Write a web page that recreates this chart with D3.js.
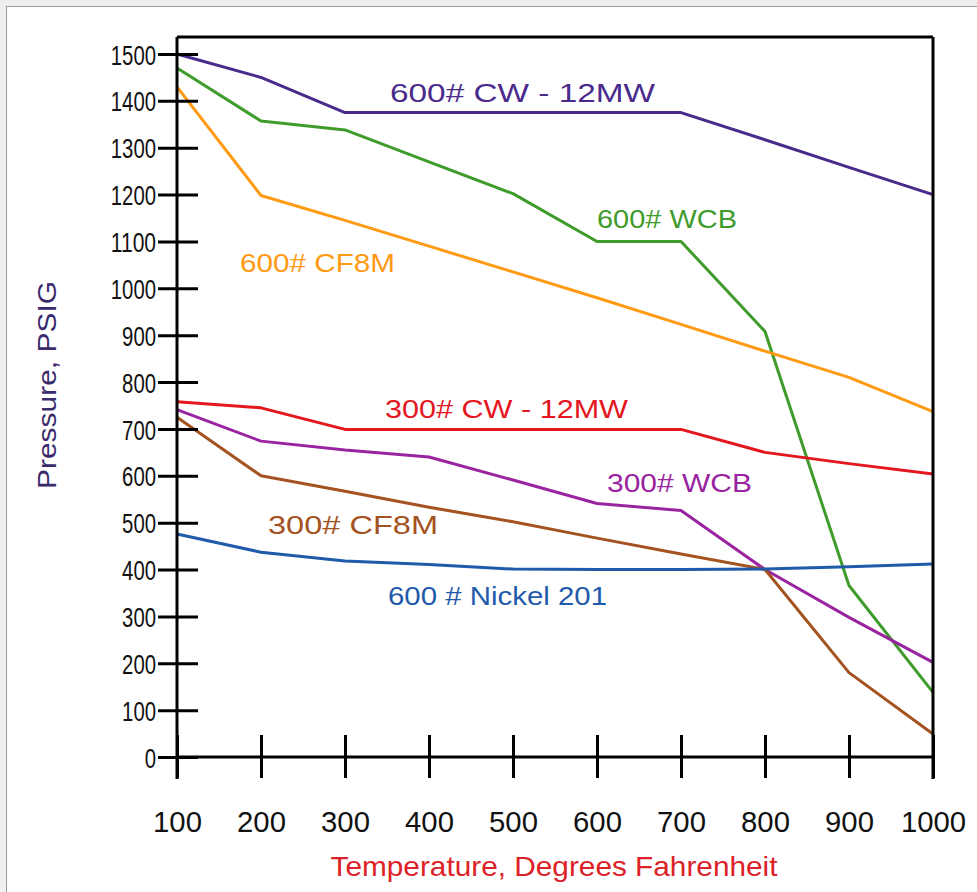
<!DOCTYPE html>
<html>
<head>
<meta charset="utf-8">
<script src="https://cdn.jsdelivr.net/npm/d3@7"></script>
<style>
  html, body { margin: 0; padding: 0; background: #efefef; }
  #page { position: absolute; left: 6px; top: 6px; width: 971px; height: 886px;
          background: #fff; border-left: 1px solid #9a9a9a; border-top: 1px solid #9a9a9a; }
  svg { position: absolute; left: 0; top: 0; }
  text { font-family: "Liberation Sans", Arial, Helvetica, sans-serif; }
</style>
</head>
<body>
<div id="page"></div>
<svg id="chart" width="977" height="892"></svg>
<script>
// temperatures (deg F) along the bottom
var temps = [100, 200, 300, 400, 500, 600, 700, 800, 900, 1000];
var pressTicks = [0, 100, 200, 300, 400, 500, 600, 700, 800, 900, 1000, 1100, 1200, 1300, 1400, 1500];

// pressure ratings (psig), one per temp
var cw600   = [1500, 1450, 1375, 1375, 1375, 1375, 1375, 1317, 1258, 1200];
var wcb600  = [1470, 1357, 1338, 1270, 1202, 1100, 1100, 908, 366, 138];
var cf8m600 = [1430, 1198, 1145, 1090, 1035, 980, 923, 866, 810, 737];
var cw300   = [758, 745, 699, 699, 699, 699, 699, 650, 626, 604];
var wcb300  = [741, 674, 655, 640, 591, 541, 526, 400, 298, 202];
var cf8m300 = [725, 600, 567, 533, 502, 467, 433, 400, 180, 49];
var ni600   = [476, 437, 418, 411, 401, 400, 400, 401, 406, 412];

var series = [
  { name: "600# CW - 12MW",   values: cw600,   color: "#4a2b8c", lx: 390, ly: 102, lw: 265 },
  { name: "600# WCB",         values: wcb600,  color: "#3f9c2c", lx: 597, ly: 228, lw: 140 },
  { name: "600# CF8M",        values: cf8m600, color: "#ff9a12", lx: 240, ly: 272, lw: 155 },
  { name: "300# CW - 12MW",   values: cw300,   color: "#e4161e", lx: 385, ly: 418, lw: 243 },
  { name: "300# WCB",         values: wcb300,  color: "#9a24a0", lx: 607, ly: 492, lw: 145 },
  { name: "300# CF8M",        values: cf8m300, color: "#a4521f", lx: 268, ly: 534, lw: 170 },
  { name: "600 # Nickel 201", values: ni600,   color: "#1f5aab", lx: 388, ly: 605, lw: 219 }
];

// note: "top" would clash with window.top
var plotLeft = 177, plotRight = 933, plotTop = 37, plotBottom = 757;

var x = d3.scaleLinear().domain([100, 1000]).range([plotLeft, plotRight]);
var y = d3.scaleLinear().domain([0, 1500]).range([plotBottom, 54]);

var svg = d3.select("#chart");

// data lines first so the frame sits on top
var line = d3.line()
  .x(function(d, i) { return x(temps[i]); })
  .y(function(d) { return y(d); });

series.forEach(function(s) {
  svg.append("path")
    .datum(s.values)
    .attr("fill", "none")
    .attr("stroke", s.color)
    .attr("stroke-width", 3)
    .attr("stroke-linejoin", "round")
    .attr("d", line);

  svg.append("text")
    .attr("x", s.lx)
    .attr("y", s.ly)
    .attr("fill", s.color)
    .attr("font-size", 25)
    .attr("textLength", s.lw)
    .attr("lengthAdjust", "spacingAndGlyphs")
    .text(s.name);
});

// frame: top and right edges
svg.append("line").attr("x1", plotLeft).attr("x2", plotRight).attr("y1", plotTop).attr("y2", plotTop)
  .attr("stroke", "#000").attr("stroke-width", 3);
svg.append("line").attr("x1", plotRight).attr("x2", plotRight).attr("y1", plotTop).attr("y2", 779)
  .attr("stroke", "#000").attr("stroke-width", 3);

// y axis, ticks crossing the line
var yAxis = svg.append("g")
  .attr("transform", "translate(" + plotLeft + ",0)")
  .call(d3.axisLeft(y).tickValues(pressTicks).tickFormat(d3.format("d")).tickSize(19).tickPadding(0));
yAxis.select(".domain").remove();
yAxis.append("line").attr("x1", 0).attr("x2", 0).attr("y1", plotTop).attr("y2", 779)
  .attr("stroke", "#000").attr("stroke-width", 3);
yAxis.selectAll(".tick line").attr("x1", 21).attr("x2", -19)
  .attr("stroke", "#000").attr("stroke-width", 3);
yAxis.selectAll(".tick text")
  .attr("x", -21)
  .attr("dy", "0.36em")
  .attr("fill", "#111")
  .attr("font-size", 28)
  .attr("textLength", function(d) { return String(d).length * 11.3; })
  .attr("lengthAdjust", "spacingAndGlyphs");

// x axis
var xAxis = svg.append("g")
  .attr("transform", "translate(0," + plotBottom + ")")
  .call(d3.axisBottom(x).tickValues(temps).tickFormat(d3.format("d")).tickSize(21).tickPadding(0));
xAxis.select(".domain").remove();
xAxis.append("line").attr("x1", plotLeft).attr("x2", plotRight).attr("y1", 0).attr("y2", 0)
  .attr("stroke", "#000").attr("stroke-width", 3);
xAxis.selectAll(".tick line").attr("y1", -22).attr("y2", 21)
  .attr("stroke", "#000").attr("stroke-width", 3);
xAxis.selectAll(".tick text")
  .attr("y", 75)
  .attr("dy", 0)
  .attr("fill", "#111")
  .attr("font-size", 29)
  .attr("textLength", function(d) { return String(d).length * 16.3; })
  .attr("lengthAdjust", "spacingAndGlyphs");
svg.selectAll("g").attr("font-family", null).attr("font-size", null);

// axis titles
svg.append("text")
  .attr("x", 554)
  .attr("y", 876)
  .attr("text-anchor", "middle")
  .attr("fill", "#dc2228")
  .attr("font-size", 28)
  .attr("textLength", 447)
  .attr("lengthAdjust", "spacingAndGlyphs")
  .text("Temperature, Degrees Fahrenheit");

svg.append("text")
  .attr("transform", "translate(56,385) rotate(-90)")
  .attr("text-anchor", "middle")
  .attr("fill", "#3a2a6c")
  .attr("font-size", 25)
  .attr("textLength", 208)
  .attr("lengthAdjust", "spacingAndGlyphs")
  .text("Pressure, PSIG");
</script>
</body>
</html>
